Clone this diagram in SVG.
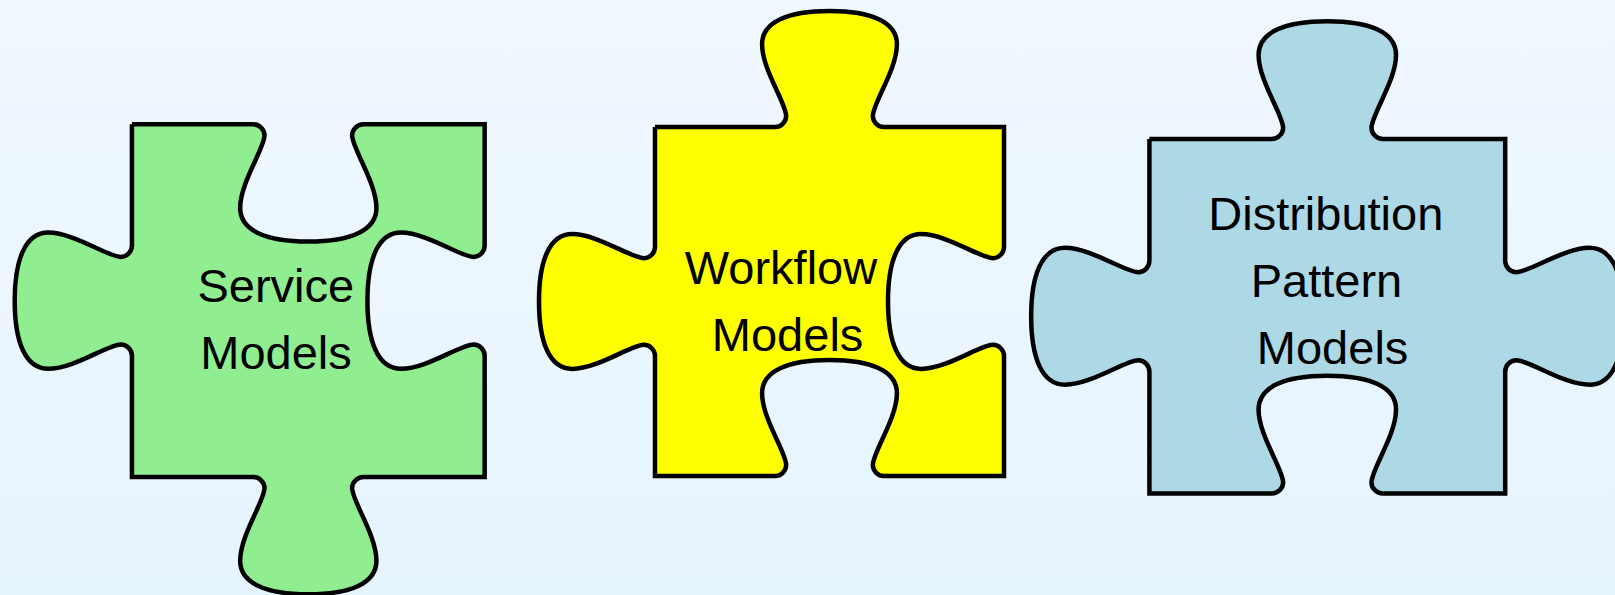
<svg xmlns="http://www.w3.org/2000/svg" width="1615" height="595" viewBox="0 0 1615 595">
<style>
.piece{stroke:#000;stroke-width:4.5;stroke-linejoin:miter;vector-effect:non-scaling-stroke}
text{font-family:"Liberation Sans",Arial,sans-serif;font-size:47px;fill:#000;text-anchor:middle}
</style>
<defs><linearGradient id="bg" x1="0" y1="0" x2="0" y2="1"><stop offset="0" stop-color="#f0f8ff"/><stop offset="1" stop-color="#e6f4fe"/></linearGradient></defs>
<rect width="1615" height="595" fill="url(#bg)"/>
<g id="service-models">
<path class="piece" fill="#90ee90" transform="translate(308.3,300.7) scale(1.002)" d="M-176,-176 L-55,-176 C-49,-176 -43.7,-171 -43.7,-165 C-43.7,-152 -68,-118 -68,-92.5 C-68,-70 -42,-59 0,-59 C42,-59 68,-70 68,-92.5 C68,-118 43.7,-152 43.7,-165 C43.7,-171 49,-176 55,-176 L176,-176 L176,-55 C176,-49 171,-43.7 165,-43.7 C152,-43.7 118,-68 92.5,-68 C70,-68 59,-42 59,0 C59,42 70,68 92.5,68 C118,68 152,43.7 165,43.7 C171,43.7 176,49 176,55 L176,176 L55,176 C49,176 43.7,181 43.7,187 C43.7,200 68,234 68,259.5 C68,282 42,293 0,293 C-42,293 -68,282 -68,259.5 C-68,234 -43.7,200 -43.7,187 C-43.7,181 -49,176 -55,176 L-176,176 L-176,55 C-176,49 -181,43.7 -187,43.7 C-200,43.7 -234,68 -259.5,68 C-282,68 -293,42 -293,0 C-293,-42 -282,-68 -259.5,-68 C-234,-68 -200,-43.7 -187,-43.7 C-181,-43.7 -176,-49 -176,-55 L-176,-176"/>
<text x="275.8" y="301.5">Service</text>
<text x="276" y="369">Models</text>
</g>
<g id="workflow-models">
<path class="piece" fill="#ffff00" transform="translate(829.5,301.5) scale(.9915)" d="M-176,-176 L-55,-176 C-49,-176 -43.7,-181 -43.7,-187 C-43.7,-200 -68,-234 -68,-259.5 C-68,-282 -42,-293 0,-293 C42,-293 68,-282 68,-259.5 C68,-234 43.7,-200 43.7,-187 C43.7,-181 49,-176 55,-176 L176,-176 L176,-55 C176,-49 171,-43.7 165,-43.7 C152,-43.7 118,-68 92.5,-68 C70,-68 59,-42 59,0 C59,42 70,68 92.5,68 C118,68 152,43.7 165,43.7 C171,43.7 176,49 176,55 L176,176 L55,176 C49,176 43.7,171 43.7,165 C43.7,152 68,118 68,92.5 C68,70 42,59 0,59 C-42,59 -68,70 -68,92.5 C-68,118 -43.7,152 -43.7,165 C-43.7,171 -49,176 -55,176 L-176,176 L-176,55 C-176,49 -181,43.7 -187,43.7 C-200,43.7 -234,68 -259.5,68 C-282,68 -293,42 -293,0 C-293,-42 -282,-68 -259.5,-68 C-234,-68 -200,-43.7 -187,-43.7 C-181,-43.7 -176,-49 -176,-55 L-176,-176"/>
<text x="781" y="283.5">Workflow</text>
<text x="787.6" y="350.5">Models</text>
</g>
<g id="distribution-pattern-models">
<path class="piece" fill="#add8e6" transform="translate(1327.3,316.25) scale(1.0107,1.007)" d="M-176,-176 L-55,-176 C-49,-176 -43.7,-181 -43.7,-187 C-43.7,-200 -68,-234 -68,-259.5 C-68,-282 -42,-293 0,-293 C42,-293 68,-282 68,-259.5 C68,-234 43.7,-200 43.7,-187 C43.7,-181 49,-176 55,-176 L176,-176 L176,-55 C176,-49 181,-43.7 187,-43.7 C200,-43.7 234,-68 259.5,-68 C282,-68 293,-42 293,0 C293,42 282,68 259.5,68 C234,68 200,43.7 187,43.7 C181,43.7 176,49 176,55 L176,176 L55,176 C49,176 43.7,171 43.7,165 C43.7,152 68,118 68,92.5 C68,70 42,59 0,59 C-42,59 -68,70 -68,92.5 C-68,118 -43.7,152 -43.7,165 C-43.7,171 -49,176 -55,176 L-176,176 L-176,55 C-176,49 -181,43.7 -187,43.7 C-200,43.7 -234,68 -259.5,68 C-282,68 -293,42 -293,0 C-293,-42 -282,-68 -259.5,-68 C-234,-68 -200,-43.7 -187,-43.7 C-181,-43.7 -176,-49 -176,-55 L-176,-176"/>
<text x="1325.8" y="230">Distribution</text>
<text x="1326.5" y="297">Pattern</text>
<text x="1332.6" y="364">Models</text>
</g>
<g id="connectors"/>
</svg>
